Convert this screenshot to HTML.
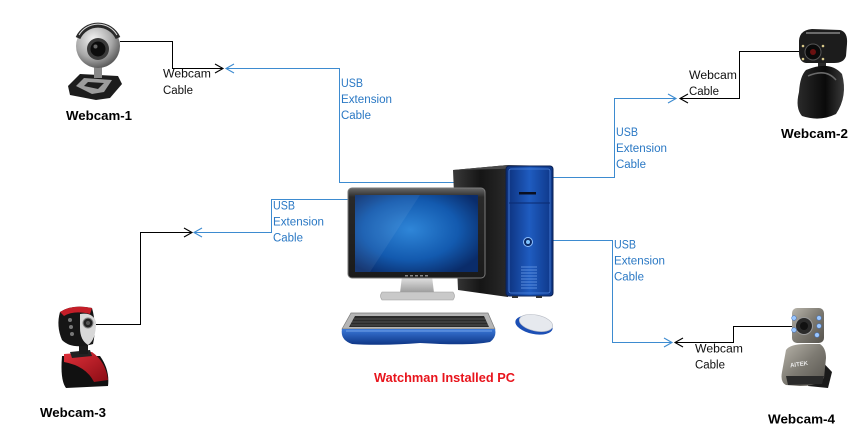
<!DOCTYPE html>
<html><head><meta charset="utf-8">
<style>
html,body{margin:0;padding:0;background:#fff;}
svg{display:block;}
text{font-family:"Liberation Sans",sans-serif;}
</style></head>
<body>
<svg width="866" height="433" viewBox="0 0 866 433" xmlns="http://www.w3.org/2000/svg">
<defs>
  <radialGradient id="silver" cx="0.4" cy="0.35" r="0.7">
    <stop offset="0" stop-color="#f4f4f4"/>
    <stop offset="0.6" stop-color="#a8a8a8"/>
    <stop offset="1" stop-color="#505050"/>
  </radialGradient>
  <radialGradient id="screen" cx="0.45" cy="0.45" r="0.65">
    <stop offset="0" stop-color="#2f86d8"/>
    <stop offset="0.6" stop-color="#135aaf"/>
    <stop offset="1" stop-color="#0a2c6a"/>
  </radialGradient>
  <linearGradient id="towerFront" x1="0" y1="0" x2="1" y2="0">
    <stop offset="0" stop-color="#0c2f7a"/>
    <stop offset="0.5" stop-color="#1f5cc0"/>
    <stop offset="1" stop-color="#0d3585"/>
  </linearGradient>
  <linearGradient id="towerSide" x1="0" y1="0" x2="1" y2="0">
    <stop offset="0" stop-color="#3a3a3a"/>
    <stop offset="0.5" stop-color="#151515"/>
    <stop offset="1" stop-color="#2a2a2a"/>
  </linearGradient>
  <linearGradient id="bezel" x1="0" y1="0" x2="0" y2="1">
    <stop offset="0" stop-color="#6a6a6a"/>
    <stop offset="0.1" stop-color="#2a2a2a"/>
    <stop offset="1" stop-color="#1a1a1a"/>
  </linearGradient>
  <linearGradient id="steel" x1="0" y1="0" x2="0" y2="1">
    <stop offset="0" stop-color="#e8e8e8"/>
    <stop offset="1" stop-color="#9a9a9a"/>
  </linearGradient>
  <linearGradient id="kbBlue" x1="0" y1="0" x2="0" y2="1">
    <stop offset="0" stop-color="#3a78d8"/>
    <stop offset="1" stop-color="#0d3585"/>
  </linearGradient>
  <linearGradient id="grey4" x1="0" y1="0" x2="1" y2="1">
    <stop offset="0" stop-color="#b8b4aa"/>
    <stop offset="0.5" stop-color="#7d7a72"/>
    <stop offset="1" stop-color="#55524c"/>
  </linearGradient>
  <linearGradient id="red3" x1="0" y1="0" x2="1" y2="1">
    <stop offset="0" stop-color="#e0303a"/>
    <stop offset="1" stop-color="#8a0c14"/>
  </linearGradient>
  <linearGradient id="black2" x1="0" y1="0" x2="1" y2="0">
    <stop offset="0" stop-color="#2a2a2a"/>
    <stop offset="0.6" stop-color="#0a0a0a"/>
    <stop offset="1" stop-color="#3a3a3a"/>
  </linearGradient>
</defs>

<rect width="866" height="433" fill="#fff"/>

<!-- ============ CONNECTORS ============ -->
<g fill="none" stroke-width="1" shape-rendering="crispEdges">
  <!-- Webcam-1 black -->
  <polyline points="120,41.5 172.5,41.5 172.5,68.5 222,68.5" stroke="#000"/>
  <!-- Webcam-1 blue -->
  <polyline points="227,68.5 339.5,68.5 339.5,182.5 455,182.5" stroke="#3d8bd0"/>
  <!-- Webcam-2 black -->
  <polyline points="800,51.5 739.5,51.5 739.5,98.5 681,98.5" stroke="#000"/>
  <!-- Webcam-2 blue -->
  <polyline points="676,98.5 614.5,98.5 614.5,177.5 552,177.5" stroke="#3d8bd0"/>
  <!-- Webcam-3 black -->
  <polyline points="96,324.5 140.5,324.5 140.5,232.5 192,232.5" stroke="#000"/>
  <!-- Webcam-3 blue -->
  <polyline points="195,232.5 271.5,232.5 271.5,199.5 350,199.5" stroke="#3d8bd0"/>
  <!-- Webcam-4 blue -->
  <polyline points="552,240.5 612.5,240.5 612.5,342.5 672,342.5" stroke="#3d8bd0"/>
  <!-- Webcam-4 black -->
  <polyline points="676,342.5 733.5,342.5 733.5,326.5 793,326.5" stroke="#000"/>
</g>
<!-- arrowheads -->
<g fill="none" stroke-width="1.1">
  <polyline points="215,64 223,68.5 215,73" stroke="#000"/>
  <polyline points="234,64 226,68.5 234,73" stroke="#3d8bd0"/>
  <polyline points="668,94 676,98.5 668,103" stroke="#3d8bd0"/>
  <polyline points="688,94 680,98.5 688,103" stroke="#000"/>
  <polyline points="184,228 192,232.5 184,237" stroke="#000"/>
  <polyline points="202,228 194,232.5 202,237" stroke="#3d8bd0"/>
  <polyline points="664,338 672,342.5 664,347" stroke="#3d8bd0"/>
  <polyline points="683,338 675,342.5 683,347" stroke="#000"/>
</g>

<!-- ============ LABELS ============ -->
<g font-size="11.5" fill="#111">
  <text x="163" y="77.5" textLength="48" lengthAdjust="spacingAndGlyphs">Webcam</text>
  <text x="163" y="94" textLength="30" lengthAdjust="spacingAndGlyphs">Cable</text>
  <text x="689" y="79" textLength="48" lengthAdjust="spacingAndGlyphs">Webcam</text>
  <text x="689" y="95" textLength="30" lengthAdjust="spacingAndGlyphs">Cable</text>
  <text x="695" y="352.5" textLength="48" lengthAdjust="spacingAndGlyphs">Webcam</text>
  <text x="695" y="368.5" textLength="30" lengthAdjust="spacingAndGlyphs">Cable</text>
</g>
<g font-size="11.5" fill="#2a78c4">
  <text x="341" y="87" textLength="22" lengthAdjust="spacingAndGlyphs">USB</text>
  <text x="341" y="103" textLength="51" lengthAdjust="spacingAndGlyphs">Extension</text>
  <text x="341" y="119" textLength="30" lengthAdjust="spacingAndGlyphs">Cable</text>

  <text x="616" y="136" textLength="22" lengthAdjust="spacingAndGlyphs">USB</text>
  <text x="616" y="152" textLength="51" lengthAdjust="spacingAndGlyphs">Extension</text>
  <text x="616" y="168" textLength="30" lengthAdjust="spacingAndGlyphs">Cable</text>

  <text x="273" y="209.5" textLength="22" lengthAdjust="spacingAndGlyphs">USB</text>
  <text x="273" y="225.5" textLength="51" lengthAdjust="spacingAndGlyphs">Extension</text>
  <text x="273" y="241.5" textLength="30" lengthAdjust="spacingAndGlyphs">Cable</text>

  <text x="614" y="248.5" textLength="22" lengthAdjust="spacingAndGlyphs">USB</text>
  <text x="614" y="264.5" textLength="51" lengthAdjust="spacingAndGlyphs">Extension</text>
  <text x="614" y="280.5" textLength="30" lengthAdjust="spacingAndGlyphs">Cable</text>
</g>
<g font-size="13" font-weight="bold" fill="#000">
  <text x="66" y="120" textLength="66" lengthAdjust="spacingAndGlyphs">Webcam-1</text>
  <text x="781" y="138" textLength="67" lengthAdjust="spacingAndGlyphs">Webcam-2</text>
  <text x="40" y="417" textLength="66" lengthAdjust="spacingAndGlyphs">Webcam-3</text>
  <text x="768" y="423.5" textLength="67" lengthAdjust="spacingAndGlyphs">Webcam-4</text>
</g>
<text x="374" y="382" font-size="13" font-weight="bold" fill="#e8141c" textLength="141" lengthAdjust="spacingAndGlyphs">Watchman Installed PC</text>

<!-- ============ PC ============ -->
<!-- tower side -->
<polygon points="453,170 508,165 508,297 458,290" fill="url(#towerSide)"/>
<polygon points="453,170 508,165 552,166 500,169" fill="#4a4a4a"/>
<!-- tower front -->
<rect x="506" y="166" width="47" height="130" rx="3" fill="url(#towerFront)" stroke="#0a1f50" stroke-width="1"/>
<rect x="509" y="169" width="41" height="124" rx="2" fill="none" stroke="#4f86e0" stroke-width="0.8"/>
<line x1="509" y1="203" x2="550" y2="203" stroke="#0a2a70" stroke-width="1"/>
<rect x="519" y="192" width="17" height="2.5" fill="#0a0f20"/>
<circle cx="528" cy="242" r="4.5" fill="#0b2a66" stroke="#8fc0ff" stroke-width="1"/>
<circle cx="528" cy="242" r="2" fill="#7fc4ff"/>
<g stroke="#6a9be8" stroke-width="0.8">
  <line x1="521" y1="267" x2="537" y2="267"/>
  <line x1="521" y1="270" x2="537" y2="270"/>
  <line x1="521" y1="273" x2="537" y2="273"/>
  <line x1="521" y1="276" x2="537" y2="276"/>
  <line x1="521" y1="279" x2="537" y2="279"/>
  <line x1="521" y1="282" x2="537" y2="282"/>
  <line x1="521" y1="285" x2="537" y2="285"/>
  <line x1="521" y1="288" x2="537" y2="288"/>
</g>
<rect x="536" y="296" width="6" height="2" fill="#333"/>
<rect x="512" y="296" width="6" height="2" fill="#333"/>

<!-- monitor stand -->
<path d="M402,276 L432,276 L434,293 L400,293 Z" fill="url(#steel)"/>
<path d="M382,292 L453,292 Q456,296 453,300 L382,300 Q379,296 382,292 Z" fill="#c9c9c9" stroke="#9a9a9a" stroke-width="0.6"/>
<!-- monitor -->
<rect x="348" y="188" width="137" height="90" rx="4" fill="url(#bezel)" stroke="#7a7a7a" stroke-width="1"/>
<rect x="355" y="195" width="123" height="77" fill="url(#screen)"/>
<polygon points="355,195 420,195 370,272 355,272" fill="#ffffff" opacity="0.06"/>
<g fill="#888">
  <rect x="405" y="275" width="3" height="1.5"/><rect x="410" y="275" width="3" height="1.5"/>
  <rect x="415" y="275" width="3" height="1.5"/><rect x="420" y="275" width="3" height="1.5"/>
  <rect x="425" y="275" width="3" height="1.5"/>
</g>

<!-- keyboard -->
<path d="M351,313 L488,313 L495,329 L342,329 Z" fill="#b5b5b5" stroke="#7a7a7a" stroke-width="0.7"/>
<path d="M355,316 L484,316 L489,327 L349,327 Z" fill="#2a2a2a"/>
<g stroke="#777" stroke-width="0.5">
  <line x1="354" y1="319" x2="485" y2="319"/>
  <line x1="352" y1="322" x2="487" y2="322"/>
  <line x1="351" y1="325" x2="488" y2="325"/>
</g>
<path d="M342,329 L495,329 Q497,337 490,342 Q470,346 420,343 Q380,346 352,344 Q340,340 342,329 Z" fill="url(#kbBlue)"/>
<path d="M346,331 L492,331" stroke="#8ab4f0" stroke-width="0.8"/>
<!-- mouse -->
<ellipse cx="534" cy="325" rx="19" ry="9" fill="#1c4fb5" transform="rotate(12 534 325)"/>
<ellipse cx="536" cy="323" rx="17" ry="8" fill="#e6e9ee" stroke="#b8bcc5" stroke-width="0.6" transform="rotate(12 536 323)"/>

<!-- ============ WEBCAM-1 (silver sphere) ============ -->
<path d="M68,86 L80,74 L118,76 L122,84 L110,98 L96,100 L70,95 Z" fill="#1c1c1c"/>
<path d="M76,86 L84,78 L112,80 L104,92 L92,94 Z" fill="#9c9c9c"/>
<path d="M84,86 L88,82 L104,83 L98,89 Z" fill="#1c1c1c"/>
<rect x="94" y="66" width="8" height="12" fill="#888"/>
<circle cx="98" cy="46" r="22" fill="url(#silver)"/>
<path d="M78,38 A22,22 0 0 1 118,38" fill="none" stroke="#2a2a2a" stroke-width="5"/>
<path d="M79,35 A22,22 0 0 1 117,35" fill="none" stroke="#ddd" stroke-width="1"/>
<circle cx="98" cy="49" r="11" fill="#3a3a3a"/>
<circle cx="98" cy="49" r="7.5" fill="#0c0c0c"/>
<circle cx="95.5" cy="46.5" r="2" fill="#666"/>

<!-- ============ WEBCAM-2 (black) ============ -->
<path d="M818,62 L826,62 L826,72 L818,72 Z" fill="#2a2a2a"/>
<path d="M806,70 Q830,60 842,74 Q848,96 836,114 Q820,122 802,116 Q795,108 799,92 Q800,76 806,70 Z" fill="url(#black2)"/>
<path d="M808,76 Q826,68 836,80" fill="none" stroke="#6a6a6a" stroke-width="1.5"/>
<path d="M799,44 Q798,30 812,29 L840,30 Q848,32 847,44 L846,56 Q844,63 834,63 L806,63 Q799,62 799,52 Z" fill="#1c1c1c"/>
<path d="M806,33 L840,33" stroke="#6a6a6a" stroke-width="2"/>
<circle cx="813" cy="52" r="8" fill="#0a0a0a" stroke="#555" stroke-width="1"/>
<circle cx="813" cy="52" r="3" fill="#6a1010"/>
<circle cx="803" cy="46" r="1.3" fill="#d8c88a"/>
<circle cx="823" cy="46" r="1.3" fill="#d8c88a"/>
<circle cx="803" cy="59" r="1.3" fill="#d8c88a"/>
<circle cx="823" cy="59" r="1.3" fill="#d8c88a"/>

<!-- ============ WEBCAM-3 (red) ============ -->
<path d="M62,356 L100,356 Q110,370 108,386 L66,388 Q60,380 62,356 Z" fill="#111"/>
<path d="M64,354 L92,352 Q106,362 108,380 L94,382 Q86,366 64,362 Z" fill="url(#red3)"/>
<path d="M70,352 L90,350 L92,356 L72,358 Z" fill="#222"/>
<rect x="79" y="340" width="9" height="14" fill="#1a1a1a"/>
<path d="M60,312 Q72,304 92,308 Q97,326 93,344 Q72,350 62,340 Q56,326 60,312 Z" fill="#151515"/>
<path d="M60,312 Q72,304 92,308 L90,314 Q74,310 64,316 Z" fill="#c41e28"/>
<path d="M80,314 Q93,312 96,322 Q96,340 88,345 Q80,340 80,328 Z" fill="#d8d8d8"/>
<circle cx="88" cy="323" r="5" fill="#222" stroke="#888" stroke-width="1"/>
<circle cx="88" cy="323" r="2" fill="#555"/>
<circle cx="70" cy="320" r="2" fill="#777"/>
<circle cx="71" cy="327" r="2" fill="#777"/>
<circle cx="72" cy="334" r="2" fill="#777"/>

<!-- ============ WEBCAM-4 (grey) ============ -->
<path d="M816,355 L832,372 L828,388 L808,386 Z" fill="#1a1a1a"/>
<path d="M786,350 Q790,344 806,344 L820,344 Q826,348 826,358 L824,378 Q818,386 800,386 L786,385 Q780,382 782,372 Z" fill="url(#grey4)"/>
<path d="M786,376 L824,376 L822,384 L788,385 Z" fill="#2a2a2a"/>
<text x="790" y="366" font-size="6" font-weight="bold" fill="#e8e8e8" transform="rotate(-8 800 364)">AITEK</text>
<rect x="792" y="308" width="32" height="35" rx="5" fill="url(#grey4)"/>
<circle cx="804" cy="326" r="8.5" fill="#2a2a2a" stroke="#999" stroke-width="1"/>
<circle cx="804" cy="326" r="4" fill="#111"/>
<g fill="#9cc8ff" stroke="#4a78c0" stroke-width="0.6">
  <circle cx="794" cy="318" r="2.3"/>
  <circle cx="794" cy="330" r="2.3"/>
  <circle cx="819" cy="318" r="2.3"/>
  <circle cx="819" cy="326" r="2.3"/>
  <circle cx="817" cy="335" r="2.3"/>
</g>
</svg>
</body></html>
